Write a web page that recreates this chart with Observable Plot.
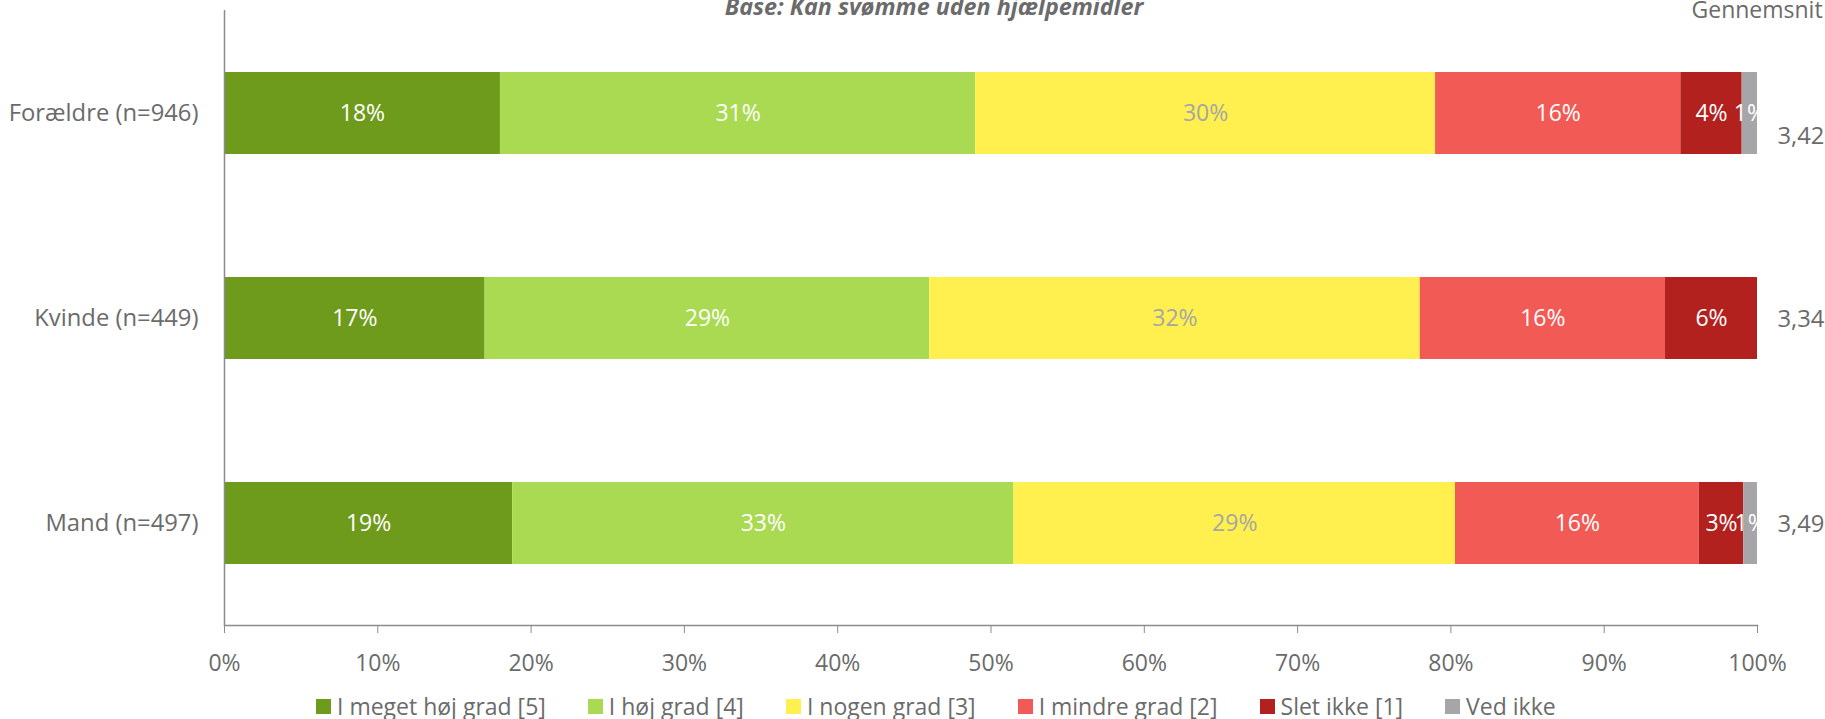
<!DOCTYPE html>
<html>
<head>
<meta charset="utf-8">
<script src="https://cdn.jsdelivr.net/npm/d3@7"></script>
<script src="https://cdn.jsdelivr.net/npm/@observablehq/plot@0.6"></script>
<style>
  html, body { margin: 0; padding: 0; background: white; overflow: hidden; }
  #legend .lg-swatches { margin: 0 !important; padding-left: 316px; height: 32px; min-height: 32px !important;
    font-family: "Open Sans", sans-serif !important; font-size: 23px !important; color: #6b6b6b !important; }
  #legend .lg-swatch { margin-right: 42px !important; }
  #legend .lg-swatch > svg { margin-right: 6px !important; }
</style>
</head>
<body>
<div id="chart"></div>
<div id="legend"></div>
<script>
const groups = ["Forældre (n=946)", "Kvinde (n=449)", "Mand (n=497)"];
const categories = ["I meget høj grad [5]", "I høj grad [4]", "I nogen grad [3]", "I mindre grad [2]", "Slet ikke [1]", "Ved ikke"];
const colors = ["#6F9B1C", "#AADA51", "#FFF04F", "#F15A55", "#B2211E", "#A6A6A9"];
const valuesForaeldre = [18, 31, 30, 16, 4, 1];
const valuesKvinde = [17, 29, 32, 16, 6, 0];
const valuesMand = [18.8, 32.7, 28.8, 15.9, 2.9, 0.9];
const averages = ["3,42", "3,34", "3,49"];
const xTicks = [0, 10, 20, 30, 40, 50, 60, 70, 80, 90, 100];
const subtitle = "Base: Kan svømme uden hjælpemidler";
const avgHeader = "Gennemsnit";

const series = [valuesForaeldre, valuesKvinde, valuesMand];
const data = [];
groups.forEach((g, gi) => categories.forEach((c, ci) => data.push({group: g, cat: c, value: series[gi][ci]})));
const avgData = groups.map((g, i) => ({group: g, avg: averages[i]}));

const textGray = "#6b6b6b";
const isYellow = d => d.cat === categories[2];
const labelOpts = {x: "value", y: "group", z: "cat", text: d => Math.round(d.value) + "%", clip: true};

const chart = Plot.plot({
  width: 1825,
  height: 690,
  marginLeft: 224,
  marginRight: 68,
  marginTop: 10,
  marginBottom: 65,
  style: {fontFamily: "Open Sans, sans-serif", fontSize: "23px", color: textGray, background: "white", overflow: "visible"},
  x: {domain: [0, 100]},
  y: {domain: groups, paddingInner: 0.6, paddingOuter: 0.3},
  color: {domain: categories, range: colors},
  marks: [
    Plot.barX(data, {x: "value", y: "group", fill: "cat"}),
    Plot.text(data, Plot.filter(d => !isYellow(d) && d.value >= 0.5, Plot.stackX({...labelOpts, fill: "white"}))),
    Plot.text(data, Plot.filter(d => isYellow(d) && d.value >= 0.5, Plot.stackX({...labelOpts, fill: "#A6A6A6"}))),
    Plot.ruleX([0], {stroke: "#8c8c8c", strokeWidth: 1.5}),
    Plot.frame({anchor: "bottom", stroke: "#8c8c8c", strokeWidth: 1.5}),
    Plot.axisX({ticks: xTicks, tickFormat: d => d + "%", tickSize: 8, tickPadding: 21, stroke: "#8c8c8c", fill: textGray, label: null}),
    Plot.axisY({tickSize: 0, tickPadding: 26, fill: textGray, label: null, fontSize: 23.8}),
    Plot.text(avgData.slice(1), {y: "group", text: "avg", frameAnchor: "right", textAnchor: "start", dx: 20, dy: 1, fill: textGray, fontSize: 23.8}),
    Plot.text(avgData.slice(0, 1), {y: "group", text: "avg", frameAnchor: "right", textAnchor: "start", dx: 20, dy: 23, fill: textGray, fontSize: 23.8}),
    Plot.text([avgHeader], {frameAnchor: "top-right", textAnchor: "start", dx: -66, dy: -9, fill: textGray}),
    Plot.text([subtitle], {frameAnchor: "top", dx: -57, dy: -12, fill: textGray, fontWeight: "bold", fontStyle: "italic", fontSize: 23.3})
  ]
});
document.getElementById("chart").append(chart);

const legend = Plot.legend({
  color: {domain: categories, range: colors},
  legend: "swatches",
  swatchSize: 15,
  className: "lg",
  style: {fontFamily: "Open Sans, sans-serif", fontSize: "23px", color: textGray}
});
document.getElementById("legend").append(legend);
</script>
</body>
</html>
